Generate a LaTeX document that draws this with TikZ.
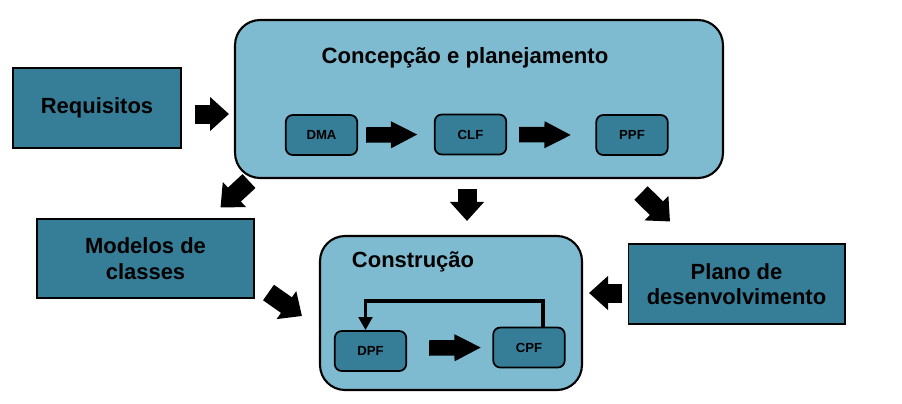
\documentclass[tikz,border=0pt]{standalone}
\usepackage{fontspec}
\setmainfont{Liberation Sans}
\usetikzlibrary{arrows.meta,calc}
\definecolor{lightbox}{RGB}{127,187,208}
\definecolor{darkbox}{RGB}{54,126,152}
\begin{document}
\begin{tikzpicture}[x=0.02cm,y=-0.02cm,
  outerbox/.style={draw,line width=1.2pt,fill=lightbox,rounded corners=0.5cm},
  inputbox/.style={draw,line width=0.6pt,fill=darkbox,font=\bfseries\fontsize{12.5}{14.5}\selectfont,align=center},
  stagebox/.style={draw,line width=1pt,fill=darkbox,rounded corners=0.14cm,minimum width=1.43cm,minimum height=0.8cm,font=\bfseries\fontsize{7.5}{9}\selectfont},
  blockarrow/.style={line width=0.38cm,-{Triangle[width=0.66cm,length=0.38cm]}},
  innerarrow/.style={line width=0.31cm,-{Triangle[width=0.5cm,length=0.54cm]}}]
\useasboundingbox (0,0) rectangle (902,403);
% boxes
\node[outerbox,minimum width=9.76cm,minimum height=3.16cm] (big) at (479,99) {};
\node[outerbox,minimum width=5.24cm,minimum height=3.08cm] (con) at (451,313) {};
\node[font=\bfseries\fontsize{12.6}{14}\selectfont] (bigtitle) at (465,58) {Concepção e planejamento};
\node[font=\bfseries\fontsize{12.5}{14}\selectfont] (contitle) at (413,262) {Construção};
\node[inputbox,minimum width=3.36cm,minimum height=1.6cm] (req) at (97,108) {Requisitos};
\node[inputbox,minimum width=4.34cm,minimum height=1.58cm] (mod) at (145.5,258.5) {Modelos de\\classes};
\node[inputbox,minimum width=4.34cm,minimum height=1.6cm] (plano) at (736.5,284) {Plano de\\desenvolvimento};
\node[stagebox] (dma) at (321.5,135) {DMA};
\node[stagebox] (clf) at (470.5,134.5) {CLF};
\node[stagebox] (ppf) at (632,135) {PPF};
\node[stagebox] (dpf) at (370.5,351) {DPF};
\node[stagebox] (cpf) at (529,347.5) {CPF};
% arrows
\draw[blockarrow] ($(req.east)+(13,6)$) -- ($(big.west)+(-5,15)$);
\draw[innerarrow] ($(dma.east)+(8,0)$) -- ($(clf.west)+(-16,0)$);
\draw[innerarrow] ($(clf.east)+(12,0)$) -- ($(ppf.west)+(-24,0)$);
\draw[blockarrow] ($(big.south)+(-12,10)$) -- ($(con.north)+(16,-14)$);
\draw[blockarrow] ($(big.south west)+(15,2)$) -- ($(mod.north east)+(-34,-11)$);
\draw[blockarrow] ($(big.south east)+(-83,14)$) -- ($(plano.north)+(-66.5,-22)$);
\draw[blockarrow] ($(mod.south east)+(14,-6)$) -- ($(con.west)+(-17,3)$);
\draw[blockarrow] ($(plano.west)+(-6,9)$) -- ($(con.east)+(6,-20)$);
\draw[innerarrow] ($(dpf.east)+(22,-3)$) -- ($(cpf.west)+(-11,0)$);
\draw[line width=2.2pt,-{Triangle[width=0.27cm,length=0.26cm]}] ($(cpf.north)+(14,0)$) |- ($(dpf.north)+(-5,-29)$) -- ($(dpf.north)+(-5,0)$);
\end{tikzpicture}
\end{document}
